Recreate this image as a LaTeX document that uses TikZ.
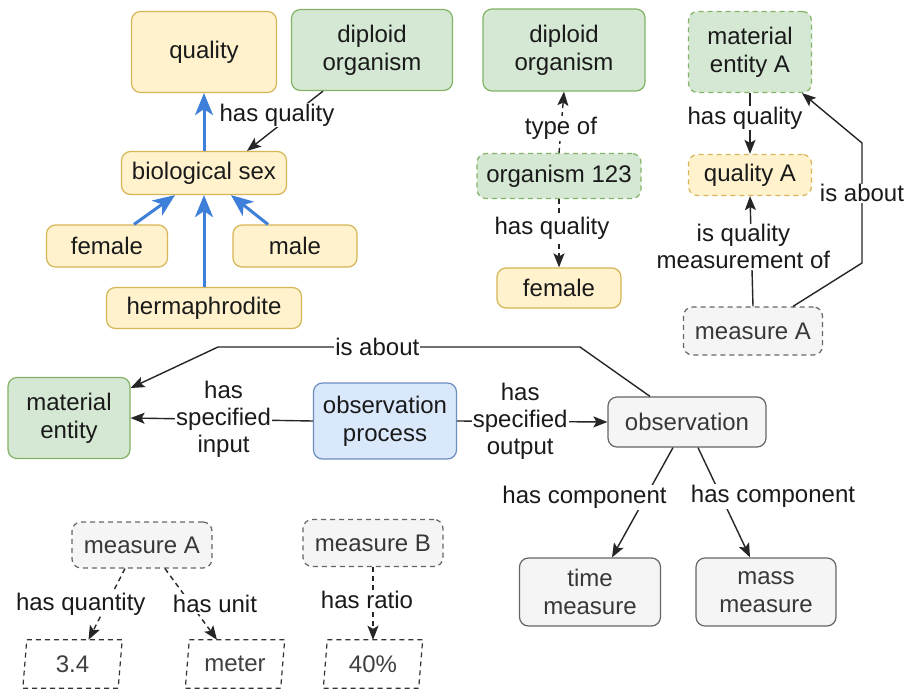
\documentclass[tikz,border=0pt]{standalone}
\usepackage{fontspec}
\setmainfont{Liberation Sans}
\usetikzlibrary{arrows.meta}
\definecolor{yfill}{HTML}{FFF2CC}\definecolor{ydraw}{HTML}{D6B656}
\definecolor{gfill}{HTML}{D5E8D4}\definecolor{gdraw}{HTML}{82B366}
\definecolor{bfill}{HTML}{DAE8FC}\definecolor{bdraw}{HTML}{6C8EBF}
\definecolor{sfill}{HTML}{F5F5F5}\definecolor{sdraw}{HTML}{666666}
\definecolor{bluearr}{HTML}{3D7FD9}
\definecolor{txt}{HTML}{1A1A1A}
\begin{document}
\begin{tikzpicture}[x=1pt,y=-1pt,font=\fontsize{24}{28}\selectfont,
  box/.style={rounded corners=9pt,line width=1.2pt,align=center,inner sep=0pt,text=txt},
  yb/.style={box,fill=yfill,draw=ydraw},
  gb/.style={box,fill=gfill,draw=gdraw},
  bb/.style={box,fill=bfill,draw=bdraw},
  sb/.style={box,fill=sfill,draw=sdraw,text=black!78},
  dsh/.style={dash pattern=on 5pt off 4pt},
  sz/.style 2 args={minimum width=#1pt,minimum height=#2pt},
  arr/.style={line width=1.4pt,draw=black!85,-{Stealth[length=14pt,width=11pt,inset=3pt]}},
  barr/.style={line width=3pt,draw=bluearr,-{Stealth[length=22pt,width=18pt,inset=6pt]}},
  lbl/.style={fill=white,inner sep=1pt,align=center,text=txt,font=\fontsize{24}{27}\selectfont},
  sketchv/.style={inner sep=0pt,minimum width=95pt,minimum height=48pt,text=black!75},
  sketchline/.style={dsh,line width=1.2pt,draw=black!80}
]
\useasboundingbox[fill=white] (0,0) rectangle (910,698);

% ---- top left ----
\node[yb,sz={145}{81}] (qual) at (204,52) {quality};
\node[gb,sz={161}{81}] (dip1) at (372,50) {diploid\\organism};
\node[yb,sz={165}{43}] (bio) at (204,173) {biological sex};
\node[yb,sz={121}{42}] (fem1) at (107,246) {female};
\node[yb,sz={124}{42}] (male) at (295,246) {male};
\node[yb,sz={195}{41}] (herm) at (204,308) {hermaphrodite};

\draw[barr] (bio.north) -- (qual.south);
\draw[barr] ([xshift=27pt]fem1.north) -- ([xshift=-29pt]bio.south);
\draw[barr] ([xshift=-27pt]male.north) -- ([xshift=27pt]bio.south);
\draw[barr] (herm.north) -- (bio.south);
\draw[arr] ([xshift=-49pt]dip1.south) -- node[lbl,xshift=-8pt,yshift=6pt]{has quality} ([xshift=43pt]bio.north);

% ---- top middle ----
\node[gb,sz={162}{82}] (dip2) at (564,50) {diploid\\organism};
\node[gb,dsh,sz={164}{45}] (org) at (559,176) {organism 123};
\node[yb,sz={124}{40}] (fem2) at (559,288) {female};
\draw[arr,dsh] (org.north) -- node[lbl,pos=.4]{type of} (dip2.south);
\draw[arr,dsh] (org.south) -- node[lbl,pos=.43,xshift=-7pt]{has quality} (fem2.north);

% ---- top right ----
\node[gb,dsh,sz={123}{81}] (meA) at (750,52) {material\\entity A};
\node[yb,dsh,sz={123}{41}] (qA) at (750,175) {quality A};
\node[sb,dsh,sz={139}{48}] (mA) at (753,331) {measure A};
\draw[arr] (meA.south) -- node[lbl,pos=.41,xshift=-5pt]{has quality} (qA.north);
\draw[arr] (mA.north) -- node[lbl,pos=.54,xshift=-8pt]{is quality\\measurement of} ([xshift=0pt]qA.south);
\draw[arr] ([xshift=40pt]mA.north) -- (862,263) -- node[lbl,pos=.58]{is about} (862,143) -- ([xshift=52pt]meA.south);

% ---- middle ----
\node[gb,sz={122}{81}] (ment) at (69,418) {material\\entity};
\node[bb,sz={143}{76}] (op) at (385,421) {observation\\process};
\node[sb,sz={158}{50}] (obs) at (687,422) {observation};
\node[sb,sz={141}{68}] (tm) at (590,592) {time\\measure};
\node[sb,sz={140}{68}] (mm) at (766,592) {mass\\measure};

\draw[arr] (op.west) -- node[lbl,pos=.49]{has\\specified\\input} (ment.east);
\draw[arr] (op.east) -- node[lbl,pos=.42]{has\\specified\\output} (obs.west);
\draw[arr] ([xshift=-37pt]obs.north) -- (580,347) -- node[lbl,pos=.56]{is about} (218,347) -- ([yshift=30pt]ment.east);
\draw[arr] ([xshift=-14pt]obs.south) -- node[lbl,xshift=-58pt,yshift=5pt]{has component} ([xshift=22pt]tm.north);
\draw[arr] ([xshift=11pt]obs.south) -- node[lbl,xshift=49pt,yshift=6pt]{has component} ([xshift=-16pt]mm.north);

% ---- bottom left ----
\node[sb,dsh,sz={140}{46}] (mA2) at (142,545) {measure A};
\node[sb,dsh,sz={140}{47}] (mB) at (373,543) {measure B};
\node[sketchv] (v34) at (72.5,664) {3.4};
\node[sketchv] (vmeter) at (235,664) {meter};
\node[sketchv] (vpct) at (373,664) {40\%};
\foreach \n in {v34,vmeter,vpct}
  \draw[sketchline] ([xshift=2pt]\n.north west) -- ([xshift=2pt]\n.north east) -- ([xshift=-2pt]\n.south east) -- ([xshift=-2pt]\n.south west) -- cycle;
\draw[arr,dsh] ([xshift=-17pt]mA2.south) -- node[lbl,xshift=-26pt]{has quantity} ([xshift=16pt]v34.north);
\draw[arr,dsh] ([xshift=23pt]mA2.south) -- node[lbl,xshift=24pt]{has unit} ([xshift=-18pt]vmeter.north);
\draw[arr,dsh] (mB.south) -- node[lbl,pos=.45,xshift=-6pt]{has ratio} (vpct.north);
\end{tikzpicture}
\end{document}
